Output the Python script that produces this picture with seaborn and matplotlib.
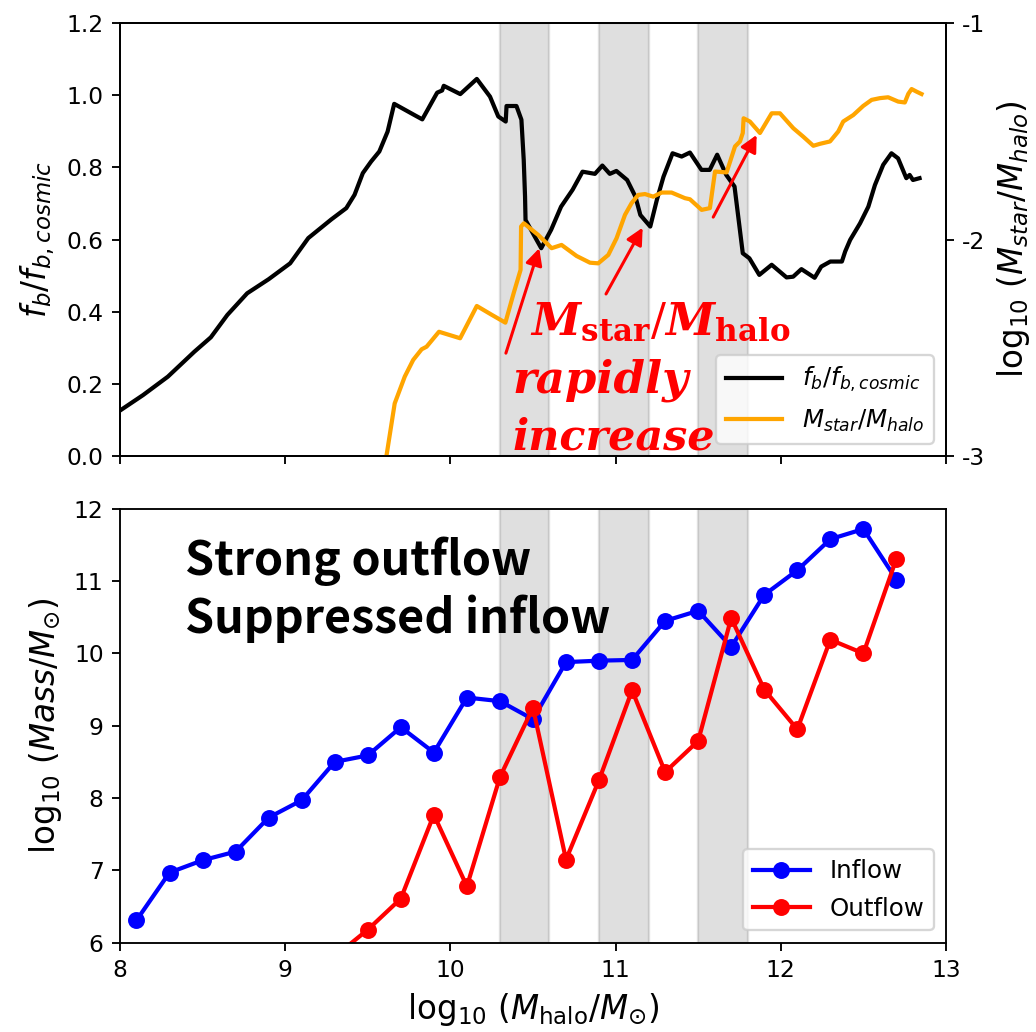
import numpy as np
import matplotlib
matplotlib.use("Agg")
import matplotlib.pyplot as plt
import seaborn as sns

# ---- top panel: baryon fraction and stellar-to-halo mass ratio ----
fb_x = [8.00, 8.14, 8.29, 8.45, 8.55, 8.65, 8.77, 8.90, 9.03, 9.14,
        9.28, 9.37, 9.42, 9.47, 9.52, 9.57, 9.62, 9.66, 9.79, 9.83,
        9.92, 9.95, 9.96, 10.06, 10.16, 10.24, 10.29, 10.335, 10.34, 10.40,
        10.43, 10.444, 10.452, 10.455, 10.55, 10.61, 10.67, 10.74, 10.80, 10.875,
        10.92, 10.965, 11.005, 11.07, 11.12, 11.15, 11.21, 11.25, 11.29, 11.345,
        11.40, 11.45, 11.52, 11.57, 11.615, 11.67, 11.72, 11.77, 11.81, 11.87,
        11.945, 12.035, 12.075, 12.125, 12.205, 12.245, 12.30, 12.37, 12.39, 12.42,
        12.48, 12.53, 12.57, 12.62, 12.67, 12.71, 12.76, 12.78, 12.80, 12.84]
fb_ratio = [0.126, 0.169, 0.220, 0.289, 0.329, 0.391, 0.451, 0.490, 0.534, 0.604,
            0.656, 0.687, 0.724, 0.784, 0.816, 0.844, 0.899, 0.976, 0.943, 0.933,
            1.007, 1.013, 1.026, 1.003, 1.045, 0.996, 0.941, 0.927, 0.970, 0.970,
            0.932, 0.821, 0.719, 0.654, 0.576, 0.627, 0.691, 0.738, 0.788, 0.782,
            0.805, 0.782, 0.790, 0.765, 0.719, 0.668, 0.636, 0.710, 0.774, 0.839,
            0.830, 0.841, 0.793, 0.793, 0.835, 0.779, 0.747, 0.562, 0.548, 0.502,
            0.530, 0.495, 0.497, 0.518, 0.494, 0.525, 0.539, 0.539, 0.567, 0.599,
            0.645, 0.691, 0.751, 0.807, 0.839, 0.825, 0.770, 0.779, 0.765, 0.770]

ms_x = [9.600, 9.613, 9.663, 9.724, 9.775, 9.826, 9.856, 9.931, 10.059, 10.160,
        10.251, 10.333, 10.383, 10.425, 10.428, 10.445, 10.532, 10.613, 10.673, 10.764,
        10.845, 10.895, 10.956, 11.006, 11.057, 11.097, 11.137, 11.178, 11.228, 11.279,
        11.339, 11.420, 11.450, 11.521, 11.571, 11.602, 11.672, 11.723, 11.753, 11.770,
        11.775, 11.813, 11.874, 11.945, 11.995, 12.076, 12.136, 12.197, 12.237, 12.298,
        12.348, 12.378, 12.439, 12.499, 12.550, 12.600, 12.650, 12.711, 12.751, 12.772,
        12.792, 12.822, 12.852]
log_mstar_mhalo = [-3.05, -3.000, -2.757, -2.633, -2.556, -2.507, -2.495, -2.426, -2.456, -2.307,
                   -2.348, -2.384, -2.248, -2.140, -1.940, -1.925, -1.979, -2.040, -2.025, -2.076,
                   -2.107, -2.110, -2.071, -1.994, -1.886, -1.832, -1.794, -1.790, -1.802, -1.783,
                   -1.783, -1.809, -1.814, -1.863, -1.855, -1.686, -1.690, -1.570, -1.547, -1.508,
                   -1.440, -1.455, -1.508, -1.417, -1.417, -1.486, -1.525, -1.567, -1.558, -1.547,
                   -1.501, -1.455, -1.425, -1.383, -1.355, -1.347, -1.343, -1.363, -1.367, -1.327,
                   -1.305, -1.317, -1.328]

# ---- bottom panel: accreted / ejected mass per halo-mass bin ----
halo_bins = [8.1, 8.3, 8.5, 8.7, 8.9, 9.1, 9.3, 9.5, 9.7, 9.9, 10.1, 10.3,
             10.5, 10.7, 10.9, 11.1, 11.3, 11.5, 11.7, 11.9, 12.1, 12.3, 12.5, 12.7]
inflow = [6.31, 6.97, 7.14, 7.26, 7.73, 7.97, 8.50, 8.59, 8.98, 8.63, 9.39, 9.34,
          9.09, 9.88, 9.90, 9.91, 10.45, 10.59, 10.09, 10.81, 11.15, 11.58, 11.72, 11.02]
outflow_bins = [9.3, 9.5, 9.7, 9.9, 10.1, 10.3, 10.5, 10.7, 10.9, 11.1, 11.3, 11.5,
                11.7, 11.9, 12.1, 12.3, 12.5, 12.7]
outflow = [5.81, 6.18, 6.61, 7.77, 6.78, 8.29, 9.25, 7.15, 8.25, 9.49, 8.36, 8.79,
           10.49, 9.50, 8.95, 10.19, 10.00, 11.31]

# shaded halo-mass intervals of rapid stellar growth
bands = [(10.3, 10.6), (10.9, 11.2), (11.5, 11.8)]

LW = 1.8
DPI = 168
LEG = dict(loc="lower right", fontsize=10.5, handlelength=2.3, labelspacing=0.55)

fig = plt.figure(figsize=(1036 / DPI, 1032 / DPI), dpi=DPI)
ax = fig.add_axes([0.1158, 0.5581, 0.7973, 0.4196])
axb = fig.add_axes([0.1158, 0.0865, 0.7973, 0.4205], sharex=ax)

for lo, hi in bands:
    ax.axvspan(lo, hi, color="gray", alpha=0.25, zorder=0)
    axb.axvspan(lo, hi, color="gray", alpha=0.25, zorder=0)

# top panel
sns.lineplot(x=fb_x, y=fb_ratio, ax=ax, color="black", sort=False, estimator=None,
             linewidth=LW, label=r"$f_b/f_{b,cosmic}$", legend=False)
ax.set_xlim(8, 13)
ax.set_ylim(0, 1.2)
ax.set_yticks([0.0, 0.2, 0.4, 0.6, 0.8, 1.0, 1.2])
ax.set_ylabel(r"$f_b/f_{b,cosmic}$", fontsize=14)
ax.tick_params(labelbottom=False)

ax2 = ax.twinx()
sns.lineplot(x=ms_x, y=log_mstar_mhalo, ax=ax2, color="orange", sort=False,
             estimator=None, linewidth=LW, label=r"$M_{star}/M_{halo}$", legend=False)
ax2.set_ylim(-3, -1)
ax2.set_yticks([-3, -2, -1])
ax2.set_yticklabels(["-3", "-2", "-1"])
ax2.set_ylabel(r"log$_{10}$ ($M_{star}/M_{halo}$)", fontsize=14)

h1, l1 = ax.get_legend_handles_labels()
h2, l2 = ax2.get_legend_handles_labels()
ax2.legend(h1 + h2, l1 + l2, **LEG)

# arrows marking the jumps in M_star/M_halo
arrows = [((10.336, 0.285), (10.538, 0.576)),
          ((10.942, 0.449), (11.164, 0.633)),
          ((11.591, 0.662), (11.854, 0.890))]
for tail, tip in arrows:
    ax2.annotate("", xy=tip, xytext=tail, xycoords=ax.transData,
                 textcoords=ax.transData,
                 arrowprops=dict(arrowstyle="-|>", color="red", lw=1.3,
                                 mutation_scale=15, shrinkA=0, shrinkB=0),
                 annotation_clip=False)

ax2.text(10.482, 0.336, r"$\mathbfit{M}_{\mathbf{star}}/\mathbfit{M}_{\mathbf{halo}}$",
         transform=ax.transData, color="red", fontsize=19, va="baseline",
         math_fontfamily="dejavuserif")
for txt, x0, y0, fs in [("rapidly", 10.373, 0.175, 19.3), ("increase", 10.379, 0.017, 18.4)]:
    ax2.text(x0, y0, txt, transform=ax.transData, color="red", fontsize=fs,
             family="DejaVu Serif", weight="bold", style="italic", va="baseline")

# bottom panel
sns.lineplot(x=halo_bins, y=inflow, ax=axb, color="blue", marker="o", markersize=6.5,
             markeredgecolor="blue", sort=False, estimator=None, linewidth=LW,
             label="Inflow", legend=False)
sns.lineplot(x=outflow_bins, y=outflow, ax=axb, color="red", marker="o", markersize=6.5,
             markeredgecolor="red", sort=False, estimator=None, linewidth=LW,
             label="Outflow", legend=False)
axb.set_xlim(8, 13)
axb.set_ylim(6, 12)
axb.set_xticks([8, 9, 10, 11, 12, 13])
axb.set_yticks([6, 7, 8, 9, 10, 11, 12])
axb.set_xlabel(r"log$_{10}$ ($M_{\rm halo}/M_{\odot}$)", fontsize=14)
axb.set_ylabel(r"log$_{10}$ ($Mass/M_{\odot}$)", fontsize=14)
axb.legend(**LEG)

for line, y0 in [("Strong outflow", 11.08), ("Suppressed inflow", 10.28)]:
    axb.text(8.393, y0, line, fontsize=20, weight="bold",
             family="Noto Sans CJK KR", va="baseline")

fig.savefig("out.png", dpi=DPI)
